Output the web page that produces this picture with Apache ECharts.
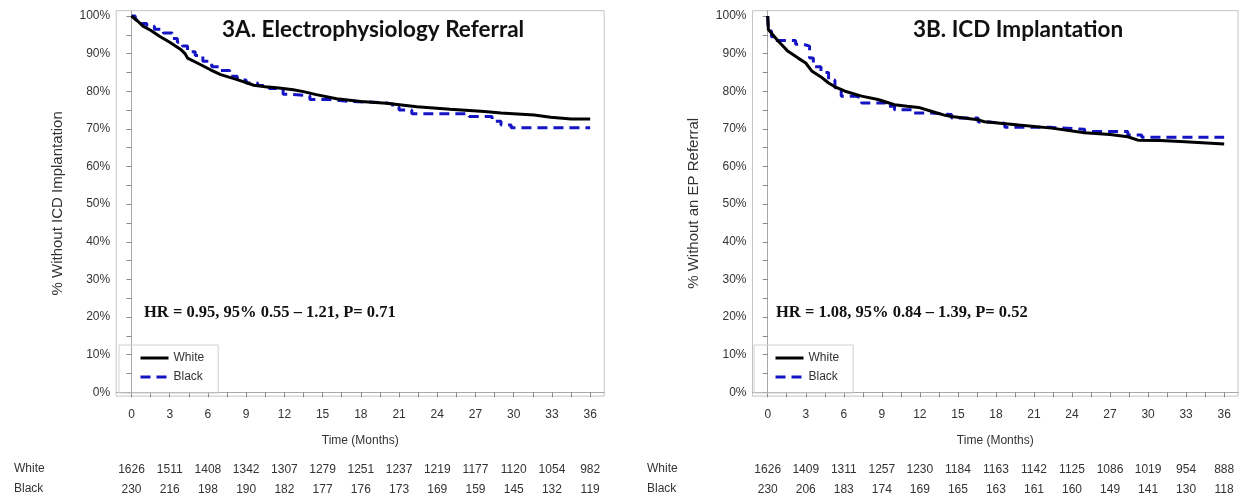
<!DOCTYPE html>
<html>
<head>
<meta charset="utf-8">
<script src="https://cdn.jsdelivr.net/npm/echarts@6/dist/echarts.min.js"></script>
<style>
html,body{margin:0;padding:0;background:#fff;}
#chart{width:1249px;height:504px;}
</style>
</head>
<body>
<div id="chart"></div>
<script>
// ---- Data ----
const panelTitles = ['3A. Electrophysiology Referral', '3B. ICD Implantation'];
const yAxisTitles = ['% Without ICD Implantation', '% Without an EP Referral'];
const hrTexts = ['HR = 0.95, 95% 0.55 \u2013 1.21, P= 0.71', 'HR = 1.08, 95% 0.84 \u2013 1.39, P= 0.52'];
const groupNames = ['White', 'Black'];
const xTickLabels = [0, 3, 6, 9, 12, 15, 18, 21, 24, 27, 30, 33, 36];
const xMinorTicks = [0, 1.5, 3, 4.5, 6, 7.5, 9, 10.5, 12, 13.5, 15, 16.5, 18, 19.5, 21, 22.5, 24, 25.5, 27, 28.5, 30, 31.5, 33, 34.5, 36];
const yTickLabels = [0, 10, 20, 30, 40, 50, 60, 70, 80, 90, 100];
const yMinorTicks = [0, 5, 10, 15, 20, 25, 30, 35, 40, 45, 50, 55, 60, 65, 70, 75, 80, 85, 90, 95, 100];

// Numbers at risk
const riskWhiteA = [1626, 1511, 1408, 1342, 1307, 1279, 1251, 1237, 1219, 1177, 1120, 1054, 982];
const riskBlackA = [230, 216, 198, 190, 182, 177, 176, 173, 169, 159, 145, 132, 119];
const riskWhiteB = [1626, 1409, 1311, 1257, 1230, 1184, 1163, 1142, 1125, 1086, 1019, 954, 888];
const riskBlackB = [230, 206, 183, 174, 169, 165, 163, 161, 160, 149, 141, 130, 118];

// 3A curves (months, % without event)
const whiteA_t = [0, 0.5, 0.9, 1.5, 2.2, 3.0, 3.9, 4.2, 4.4, 5.4, 6.2, 7.0, 8.3, 9.6, 10.5, 11.4, 12.7, 13.5, 14.5, 16.1, 18.0, 20.0, 22.4, 25.0, 27.7, 29.0, 31.6, 32.9, 34.5, 36];
const whiteA_v = [100, 98.6, 97.3, 96.2, 94.6, 93.0, 91.0, 90.0, 88.8, 87.1, 85.7, 84.4, 83.1, 81.6, 81.2, 80.9, 80.4, 79.9, 79.1, 78.0, 77.3, 76.8, 75.9, 75.2, 74.6, 74.2, 73.7, 73.1, 72.6, 72.6];
const blackA_t = [0, 0.3, 0.7, 1.2, 1.8, 2.5, 3.2, 3.6, 4.0, 4.4, 5.0, 5.6, 6.3, 7.0, 7.7, 8.3, 9.0, 9.9, 10.8, 11.9, 12.5, 14.0, 15.5, 17.0, 19.8, 20.5, 21.0, 22.0, 26.5, 28.3, 29.0, 29.8, 36];
const blackA_v = [100, 99.0, 98.0, 97.3, 96.5, 95.5, 94.0, 93.0, 92.0, 90.5, 89.5, 88.0, 86.5, 85.5, 84.0, 83.0, 82.2, 81.5, 80.7, 79.2, 78.8, 77.8, 77.3, 77.0, 76.6, 75.8, 75.0, 74.0, 73.3, 72.0, 71.0, 70.3, 70.3];

// 3B curves
const whiteB_t = [0, 0.05, 0.4, 0.84, 1.2, 1.6, 2.4, 3.0, 3.5, 4.2, 4.8, 5.4, 6.1, 7.4, 8.7, 10.0, 11.0, 11.9, 12.9, 14.0, 14.5, 16.6, 17.1, 19.8, 22.4, 25.0, 27.0, 28.4, 29.2, 31.0, 32.9, 36];
const whiteB_v = [100, 96.4, 95.0, 93.3, 92.0, 90.6, 88.8, 87.5, 85.3, 83.8, 82.2, 81.0, 80.0, 78.7, 77.8, 76.4, 76.0, 75.7, 74.7, 73.6, 73.3, 72.4, 71.9, 71.0, 70.2, 69.0, 68.5, 67.9, 67.0, 66.9, 66.6, 66.0];
const blackB_t = [0, 0.05, 0.3, 0.6, 2.2, 2.8, 3.3, 3.6, 4.2, 4.8, 5.3, 5.8, 6.9, 7.4, 9.25, 10.0, 11.4, 12.9, 14.5, 16.6, 17.5, 18.7, 22.4, 25.0, 28.4, 29.5, 36];
const blackB_v = [100, 96.0, 94.5, 93.5, 92.5, 92.0, 88.8, 86.5, 85.0, 83.0, 80.9, 78.7, 78.3, 76.9, 76.0, 75.1, 74.2, 73.8, 72.9, 71.8, 71.5, 70.4, 69.9, 69.3, 68.4, 67.8, 67.8];

// ---- Build ----
const pair = (t, v) => t.map((x, i) => [x, v[i]]);
const sans = "'Liberation Sans', Arial, sans-serif";
const txtColor = '#333';
const fs = 12;

const gridsPx = [
  { left: 116.2, width: 488 },
  { left: 752.5, width: 485.6 }
];
const risks = [[riskWhiteA, riskBlackA], [riskWhiteB, riskBlackB]];

const grid = gridsPx.map(g => ({
  left: g.left, width: g.width, top: 10.7, height: 385.4,
  show: true, borderColor: '#c4c4c4', borderWidth: 1, backgroundColor: 'transparent'
}));

const xAxis = [];
const yAxis = [];
gridsPx.forEach((g, gi) => {
  xAxis.push({
    type: 'value', gridIndex: gi, min: -1.2, max: 37.1,
    axisLine: { show: true, lineStyle: { color: '#a8a8a8', width: 1 } },
    axisTick: { show: true, customValues: xMinorTicks, length: 5, lineStyle: { color: '#8a8a8a' } },
    axisLabel: { customValues: xTickLabels, margin: 13, fontFamily: sans, fontSize: fs, color: txtColor },
    splitLine: { show: false },
    name: 'Time (Months)', nameLocation: 'middle', nameGap: 39,
    nameTextStyle: { fontFamily: sans, fontSize: fs, color: txtColor }
  });
  [0, 1].forEach(ri => {
    const arr = risks[gi][ri];
    xAxis.push({
      type: 'value', gridIndex: gi, min: -1.2, max: 37.1, position: 'bottom',
      offset: ri === 0 ? 60 : 80,
      axisLine: { show: false }, axisTick: { show: false }, splitLine: { show: false },
      axisLabel: {
        customValues: xTickLabels, margin: 8, fontFamily: sans, fontSize: fs, color: txtColor,
        formatter: v => String(arr[xTickLabels.indexOf(Math.round(v))])
      }
    });
  });
  yAxis.push({
    type: 'value', gridIndex: gi, min: -1, max: 101.4,
    axisLine: { show: true, lineStyle: { color: '#a8a8a8', width: 1 } },
    axisTick: { show: true, customValues: yMinorTicks, length: 5, lineStyle: { color: '#8a8a8a' } },
    axisLabel: { customValues: yTickLabels, margin: 6, fontFamily: sans, fontSize: fs, color: txtColor, formatter: v => Math.round(v) + '%' },
    splitLine: { show: false },
    name: yAxisTitles[gi], nameLocation: 'middle', nameGap: 51,
    nameTextStyle: { fontFamily: sans, fontSize: 15, color: txtColor }
  });
});

const whiteStyle = { color: '#000', width: 3, type: 'solid' };
const blackStyle = { color: '#1414c4', width: 3, type: [10, 6] };
const curves = [
  [pair(whiteA_t, whiteA_v), pair(blackA_t, blackA_v)],
  [pair(whiteB_t, whiteB_v), pair(blackB_t, blackB_v)]
];
const series = [];
curves.forEach((c, gi) => {
  series.push({
    type: 'line', name: groupNames[0], xAxisIndex: gi * 3, yAxisIndex: gi,
    data: c[0], showSymbol: false, symbol: 'none', lineStyle: whiteStyle, itemStyle: { color: '#000' },
    z: 3, silent: true, animation: false
  });
  series.push({
    type: 'line', name: groupNames[1], xAxisIndex: gi * 3, yAxisIndex: gi,
    data: c[1], step: 'end', showSymbol: false, symbol: 'none', lineStyle: blackStyle, itemStyle: { color: '#1414c4' },
    z: 2, silent: true, animation: false
  });
});

const legendLefts = [119, 754];
const legend = legendLefts.map(l => ({
  left: l, top: 345, orient: 'vertical', data: groupNames,
  itemWidth: 28, itemHeight: 14, itemGap: 7,
  padding: [7, 14, 10, 20], borderColor: '#cfcfcf', borderWidth: 1,
  itemStyle: { opacity: 0 },
  lineStyle: { width: 3 },
  textStyle: { fontFamily: sans, fontSize: fs, color: txtColor },
  selectedMode: false
}));

const titleStyle = { fontFamily: 'Lato, sans-serif', fontWeight: 'bold', fontSize: 22.5, color: '#111' };
const hrStyle = { fontFamily: "'Liberation Serif', serif", fontWeight: 'bold', fontSize: 16.5, color: '#111' };
const title = [
  { text: panelTitles[0], left: 222, top: 18, padding: 0, textStyle: titleStyle },
  { text: panelTitles[1], left: 913, top: 18, padding: 0, textStyle: titleStyle },
  { text: hrTexts[0], left: 144, top: 304, padding: 0, textStyle: hrStyle },
  { text: hrTexts[1], left: 776, top: 304, padding: 0, textStyle: hrStyle }
];

const rowLabelPos = [14, 647];
const graphic = [];
rowLabelPos.forEach(x => {
  groupNames.forEach((n, i) => {
    graphic.push({
      type: 'text', left: x, top: i === 0 ? 463 : 483,
      style: { text: n, fontFamily: sans, fontSize: fs, fill: txtColor }
    });
  });
});

const chart = echarts.init(document.getElementById('chart'), null, { renderer: 'canvas' });
chart.setOption({
  animation: false,
  backgroundColor: '#fff',
  title, legend, grid, xAxis, yAxis, series, graphic
});
</script>
</body>
</html>
